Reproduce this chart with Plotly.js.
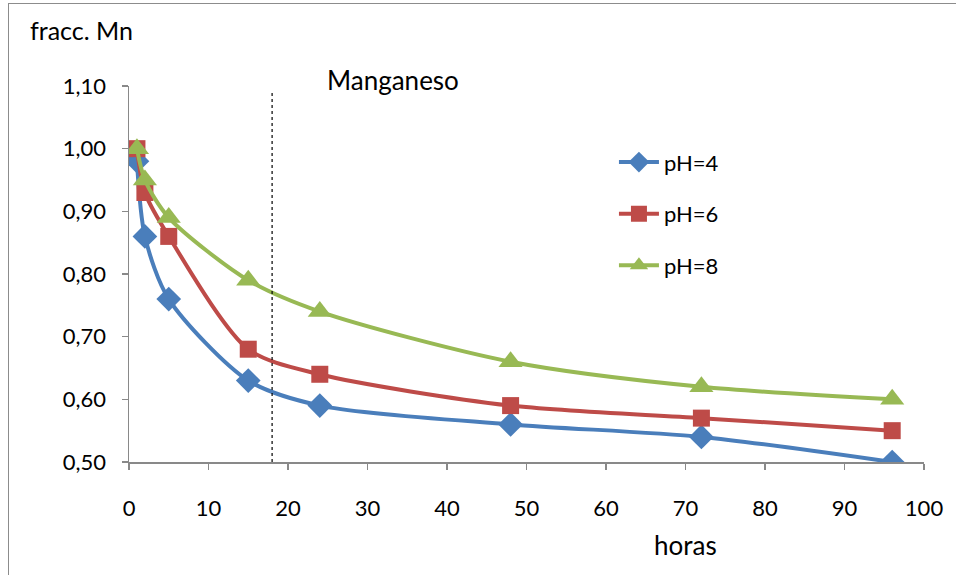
<!DOCTYPE html>
<html>
<head>
<meta charset="utf-8">
<script src="https://cdn.plot.ly/plotly-3.0.1.min.js"></script>
<style>
html,body{margin:0;padding:0;background:#fff;}
#wrap{position:absolute;left:8px;top:3px;width:960px;height:590px;border:1.5px solid #8c8c8c;}
#chart{position:absolute;left:0;top:0;width:956px;height:575px;}
</style>
</head>
<body>
<div id="wrap"></div>
<div id="chart"></div>
<script>
const horas = [1, 2, 5, 15, 24, 48, 72, 96];
const ph4 = [0.98, 0.86, 0.76, 0.63, 0.59, 0.56, 0.54, 0.50];
const ph6 = [1.00, 0.93, 0.86, 0.68, 0.64, 0.59, 0.57, 0.55];
const ph8 = [1.00, 0.95, 0.89, 0.79, 0.74, 0.66, 0.62, 0.60];
const seriesNames = ['pH=4', 'pH=6', 'pH=8'];

const font = 'Lato, "Open Sans", "Liberation Sans", sans-serif';

const traces = [
  {x: horas, y: ph4, name: seriesNames[0], legendgroup: 'a', mode: 'lines+markers',
   line: {color: '#4A7EBB', width: 4, shape: 'spline', smoothing: 0.8},
   marker: {symbol: 'diamond', size: 19, color: '#4A7EBB'}},
  {x: horas, y: ph6, name: seriesNames[1], legendgroup: 'b', mode: 'lines+markers',
   line: {color: '#BE4B48', width: 4, shape: 'spline', smoothing: 0.8},
   marker: {symbol: 'square', size: 17, color: '#BE4B48'}},
  {x: horas, y: ph8, name: seriesNames[2], legendgroup: 'c', mode: 'lines+markers',
   line: {color: '#98B954', width: 4, shape: 'spline', smoothing: 0.8},
   marker: {symbol: 'triangle-up', size: 21, color: '#98B954'}}
];

const layout = {
  width: 956, height: 575,
  paper_bgcolor: 'rgba(0,0,0,0)', plot_bgcolor: 'rgba(0,0,0,0)',
  margin: {l: 129, r: 32, t: 86, b: 113},
  font: {family: font, size: 22, color: '#000'},
  separators: ',.',
  showlegend: true,
  legend: {x: 0.61, y: 0.853, xanchor: 'left', yanchor: 'top', bgcolor: 'rgba(0,0,0,0)',
           font: {size: 22}, tracegroupgap: 20, itemwidth: 40},
  xaxis: {range: [0, 100], dtick: 10, tick0: 0, showgrid: false, zeroline: false,
          showline: true, linecolor: '#898989', linewidth: 1.5,
          ticks: 'outside', ticklen: 6, tickcolor: '#898989', tickwidth: 1.5,
          ticklabelstandoff: 20, tickfont: {size: 22}},
  yaxis: {range: [0.5, 1.1], dtick: 0.1, tick0: 0.5, tickformat: '.2f', showgrid: false, zeroline: false,
          showline: true, linecolor: '#898989', linewidth: 1.5,
          ticks: 'outside', ticklen: 6, tickcolor: '#898989', tickwidth: 1.5,
          ticklabelstandoff: 11, tickfont: {size: 22}},
  shapes: [
    {type: 'line', xref: 'x', yref: 'y', x0: 18, x1: 18, y0: 0.5, y1: 1.089,
     line: {color: '#000', width: 1.2, dash: 'dot'}}
  ],
  annotations: [
    {text: 'fracc. Mn', xref: 'paper', yref: 'paper', x: -0.127, y: 1.149, xanchor: 'left', yanchor: 'middle',
     showarrow: false, font: {size: 25}},
    {text: 'Manganeso', xref: 'x', yref: 'paper', x: 24.6, y: 1.016, xanchor: 'left', yanchor: 'middle',
     showarrow: false, font: {size: 26}},
    {text: 'horas', xref: 'x', yref: 'paper', x: 70, y: -0.221, xanchor: 'center', yanchor: 'middle',
     showarrow: false, font: {size: 26}}
  ]
};

Plotly.newPlot('chart', traces, layout, {displayModeBar: false, staticPlot: true});
</script>
</body>
</html>
